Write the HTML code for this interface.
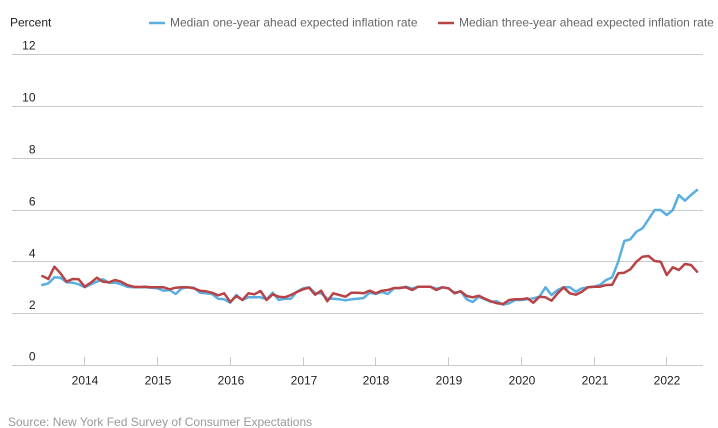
<!DOCTYPE html>
<html><head><meta charset="utf-8"><style>
html,body{margin:0;padding:0;background:#fff;}
svg{display:block;font-family:"Liberation Sans",Arial,sans-serif;}
</style></head><body>
<svg width="718" height="428" viewBox="0 0 718 428" xmlns="http://www.w3.org/2000/svg">
<g stroke="#c8c8c8" stroke-width="1" shape-rendering="crispEdges">
<line x1="12" y1="54.5" x2="703" y2="54.5"/>
<line x1="12" y1="106.5" x2="703" y2="106.5"/>
<line x1="12" y1="158.5" x2="703" y2="158.5"/>
<line x1="12" y1="210.5" x2="703" y2="210.5"/>
<line x1="12" y1="261.5" x2="703" y2="261.5"/>
<line x1="12" y1="313.5" x2="703" y2="313.5"/>
<line x1="12" y1="365.5" x2="703" y2="365.5"/>
<line x1="84.5" y1="357" x2="84.5" y2="365"/>
<line x1="157.5" y1="357" x2="157.5" y2="365"/>
<line x1="230.5" y1="357" x2="230.5" y2="365"/>
<line x1="303.5" y1="357" x2="303.5" y2="365"/>
<line x1="375.5" y1="357" x2="375.5" y2="365"/>
<line x1="448.5" y1="357" x2="448.5" y2="365"/>
<line x1="521.5" y1="357" x2="521.5" y2="365"/>
<line x1="594.5" y1="357" x2="594.5" y2="365"/>
<line x1="666.5" y1="357" x2="666.5" y2="365"/>
</g>
<g font-size="12" fill="#222" text-anchor="end">
<text x="35.5" y="49.7">12</text>
<text x="35.5" y="101.7">10</text>
<text x="35.5" y="153.5">8</text>
<text x="35.5" y="205.3">6</text>
<text x="35.5" y="257.3">4</text>
<text x="35.5" y="309">2</text>
<text x="35.5" y="360.5">0</text>
</g>
<text x="10" y="26.5" font-size="12" fill="#222">Percent</text>
<g font-size="12" fill="#222" text-anchor="middle">
<text x="85" y="384.5">2014</text>
<text x="158" y="384.5">2015</text>
<text x="231" y="384.5">2016</text>
<text x="304" y="384.5">2017</text>
<text x="376" y="384.5">2018</text>
<text x="449" y="384.5">2019</text>
<text x="522" y="384.5">2020</text>
<text x="595" y="384.5">2021</text>
<text x="667" y="384.5">2022</text>
</g>
<line x1="149" y1="23" x2="165" y2="23" stroke="#5aaee0" stroke-width="2.5"/>
<text x="170" y="26.5" font-size="12" fill="#666">Median one-year ahead expected inflation rate</text>
<line x1="438" y1="23" x2="454" y2="23" stroke="#b84346" stroke-width="2.5"/>
<text x="459" y="26.5" font-size="12" fill="#666">Median three-year ahead expected inflation rate</text>
<text x="8" y="426" font-size="12" fill="#999">Source: New York Fed Survey of Consumer Expectations</text>
<g transform="translate(42.3,0) scale(6.0625,1)" fill="none" stroke-linejoin="round" stroke-linecap="round">
<polyline vector-effect="non-scaling-stroke" stroke="#5aaee0" stroke-width="2.5" points="0,285.0 1,283.3 2,277.3 3,277.7 4,282.3 5,282.7 6,284.3 7,287.3 8,284.3 9,281.7 10,279.3 11,282.7 12,282.7 13,284.3 14,286.7 15,287.3 16,287.3 17,287.3 18,287.7 19,288.3 20,290.7 21,290.0 22,294.0 23,288.3 24,287.3 25,287.7 26,292.7 27,293.3 28,294.0 29,298.7 30,299.3 31,302.7 32,295.0 33,300.0 34,297.3 35,297.3 36,297.3 37,299.3 38,292.7 39,300.0 40,298.7 41,298.7 42,291.7 43,288.3 44,287.3 45,293.3 46,293.3 47,298.7 48,298.7 49,299.3 50,300.3 51,299.3 52,298.7 53,298.0 54,292.7 55,294.0 56,292.0 57,294.0 58,288.3 59,288.0 60,286.7 61,288.7 62,286.7 63,286.7 64,286.7 65,288.7 66,287.3 67,288.3 68,292.7 69,291.3 70,299.3 71,302.0 72,296.7 73,299.3 74,301.7 75,301.3 76,304.7 77,303.3 78,300.0 79,300.0 80,299.3 81,298.3 82,296.7 83,287.3 84,295.0 85,290.0 86,287.3 87,287.3 88,291.7 89,288.3 90,287.3 91,286.7 92,285.0 93,280.0 94,277.3 95,261.7 96,241.0 97,239.3 98,231.7 99,228.3 100,219.3 101,210.0 102,210.0 103,215.0 104,210.0 105,195.0 106,200.7 107,195.0 108,190.0"/>
<polyline vector-effect="non-scaling-stroke" stroke="#b84346" stroke-width="2.5" points="0,276.0 1,279.0 2,266.7 3,273.3 4,281.7 5,279.0 6,279.3 7,286.7 8,282.7 9,277.7 10,281.7 11,282.3 12,280.0 13,281.7 14,285.0 15,286.7 16,287.0 17,286.7 18,287.3 19,287.3 20,287.3 21,289.3 22,287.7 23,287.3 24,287.3 25,288.3 26,290.7 27,291.3 28,292.7 29,295.3 30,293.3 31,302.0 32,296.0 33,300.0 34,293.3 35,294.3 36,291.0 37,300.0 38,294.3 39,296.7 40,297.3 41,295.0 42,292.0 43,289.3 44,287.7 45,294.7 46,290.7 47,301.3 48,293.3 49,295.0 50,296.7 51,292.7 52,292.7 53,293.3 54,290.7 55,293.3 56,290.7 57,290.0 58,288.0 59,288.0 60,287.3 61,290.0 62,286.7 63,286.7 64,286.7 65,290.0 66,287.3 67,288.3 68,293.3 69,291.3 70,296.0 71,297.3 72,295.7 73,298.7 74,301.3 75,303.3 76,304.0 77,300.0 78,299.3 79,299.3 80,298.3 81,302.7 82,296.7 83,297.3 84,300.7 85,293.3 86,287.3 87,293.3 88,294.7 89,291.7 90,287.3 91,286.7 92,286.7 93,285.0 94,284.7 95,273.3 96,272.7 97,269.3 98,261.7 99,256.7 100,256.0 101,261.0 102,261.7 103,275.0 104,267.3 105,270.0 106,264.0 107,265.0 108,271.7"/>
</g>
</svg>
</body></html>
